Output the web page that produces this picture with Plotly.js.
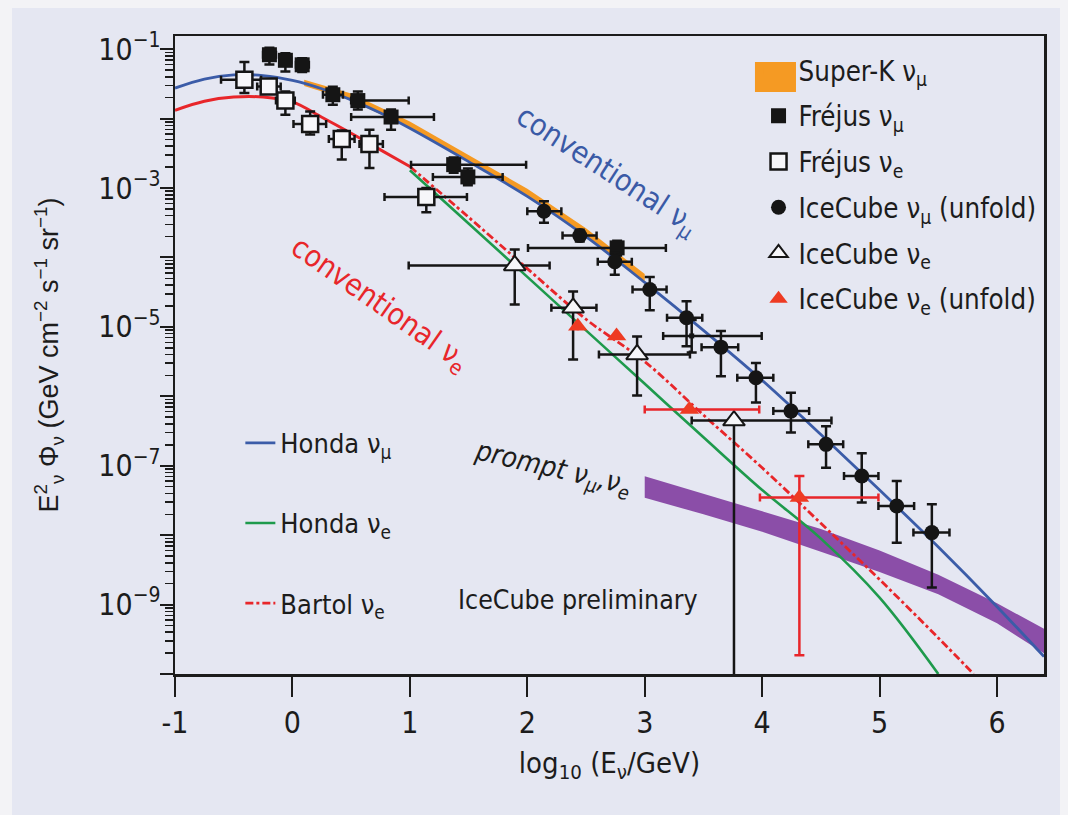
<!DOCTYPE html>
<html>
<head>
<meta charset="utf-8">
<script src="https://cdn.plot.ly/plotly-3.0.1.min.js"></script>
<style>
  html, body { margin: 0; padding: 0; background: #f3f3f6; }
  #chart { width: 1068px; height: 815px; }
</style>
</head>
<body>
<div id="chart"></div>
<script>
// All energies are log10(E / GeV); all fluxes are log10 of E^2 Phi in GeV cm^-2 s^-1 sr^-1.

// Conventional atmospheric flux models
const hondaNuMuX = [-1, -0.75, -0.5, -0.25, 0, 0.25, 0.5, 0.75, 1, 1.5, 2, 2.5, 3, 3.5, 4, 4.5, 5, 5.5, 6, 6.4];
const hondaNuMuY = [-1.56, -1.43, -1.37, -1.38, -1.45, -1.57, -1.73, -1.92, -2.14, -2.62, -3.12, -3.70, -4.36, -5.05, -5.77, -6.55, -7.35, -8.17, -9.03, -9.75];

const hondaNuEX = [1.0, 1.5, 2.0, 2.5, 3.0, 3.5, 4.0, 4.5, 5.0, 5.5];
const hondaNuEY = [-2.745, -3.51, -4.28, -5.05, -5.82, -6.59, -7.35, -8.05, -8.9, -10.0];

const bartolNuEX = [-1, -0.75, -0.5, -0.25, 0, 0.25, 0.5, 0.75, 1.0, 1.5, 2.0, 2.5, 3.0, 3.5, 4.0, 4.5, 5.0, 5.5, 5.8];
const bartolNuEY = [-1.88, -1.75, -1.69, -1.69, -1.76, -1.98, -2.21, -2.45, -2.69, -3.42, -4.16, -4.89, -5.50, -6.27, -7.03, -7.83, -8.64, -9.48, -10.0];
const bartolDashFrom = 1.0;   // above this energy the Bartol curve is drawn dash-dot

// Super-K nu_mu band
const superKX  = [0.1, 0.5, 1.0, 1.5, 2.0, 2.5, 3.0];
const superKHi = [-1.44, -1.64, -2.04, -2.52, -3.01, -3.58, -4.24];
const superKLo = [-1.53, -1.74, -2.14, -2.62, -3.12, -3.70, -4.37];

// Prompt nu_mu, nu_e band
const promptX  = [3.0, 3.5, 4.0, 4.5, 5.0, 5.5, 6.0, 6.4];
const promptHi = [-7.15, -7.40, -7.65, -7.91, -8.22, -8.57, -8.98, -9.35];
const promptLo = [-7.46, -7.70, -7.95, -8.24, -8.53, -8.85, -9.27, -9.70];

// Frejus nu_mu
const frejusMuX   = [-0.196, -0.06, 0.083, 0.344, 0.557, 0.84, 1.373, 1.494, 2.765];
const frejusMuY   = [-1.08, -1.16, -1.225, -1.656, -1.74, -1.977, -2.663, -2.84, -3.862];
const frejusMuXLo = [-0.25, -0.11, 0.03, 0.26, 0.50, 0.50, 1.01, 1.196, 2.006];
const frejusMuXHi = [-0.14, -0.01, 0.14, 0.43, 0.99, 1.205, 1.99, 1.79, 3.18];
const frejusMuYLo = [-1.22, -1.32, -1.33, -1.80, -1.87, -2.16, -2.78, -2.96, -3.97];
const frejusMuYHi = [-0.98, -1.06, -1.13, -1.54, -1.61, -1.87, -2.56, -2.72, -3.76];
// highest-energy Frejus nu_mu bin (marker mostly hidden)
const frejusMuTopX = [3.40], frejusMuTopY = [-5.13];
const frejusMuTopXLo = [3.157], frejusMuTopXHi = [3.996];
const frejusMuTopYLo = [-5.37], frejusMuTopYHi = [-4.90];

// Frejus nu_e
const frejusEX   = [-0.409, -0.202, -0.06, 0.151, 0.42, 0.656, 1.14];
const frejusEY   = [-1.44, -1.537, -1.738, -2.078, -2.294, -2.366, -3.128];
const frejusEXLo = [-0.608, -0.30, -0.14, 0.009, 0.31, 0.571, 0.784];
const frejusEXHi = [-0.267, -0.10, 0.02, 0.287, 0.529, 0.77, 1.486];
const frejusEYLo = [-1.63, -1.62, -1.944, -2.23, -2.59, -2.71, -3.35];
const frejusEYHi = [-1.186, -1.45, -1.61, -1.896, -2.17, -2.16, -3.0];

// IceCube nu_mu (unfolded)
const icMuX   = [2.142, 2.447, 2.745, 3.043, 3.356, 3.649, 3.947, 4.245, 4.544, 4.848, 5.146, 5.445];
const icMuY   = [-3.335, -3.685, -4.06, -4.462, -4.869, -5.292, -5.733, -6.213, -6.692, -7.148, -7.58, -7.963];
const icMuXLo = [2.0, 2.30, 2.60, 2.896, 3.19, 3.484, 3.788, 4.095, 4.393, 4.697, 4.99, 5.288];
const icMuXHi = [2.29, 2.59, 2.89, 3.186, 3.49, 3.796, 4.095, 4.40, 4.69, 4.99, 5.294, 5.595];
const icMuYLo = [-3.50, -3.77, -4.25, -4.76, -5.28, -5.71, -6.09, -6.52, -7.03, -7.53, -8.11, -8.755];
const icMuYHi = [-3.19, -3.60, -3.93, -4.28, -4.63, -5.06, -5.52, -5.95, -6.43, -6.82, -7.22, -7.555];

// IceCube nu_e
const icEX   = [1.893, 2.39, 2.935, 3.76];
const icEY   = [-4.115, -4.725, -5.397, -6.35];
const icEXLo = [0.99, 2.205, 2.61, 3.40];
const icEXHi = [2.19, 2.589, 3.385, 4.59];
const icEYLo = [-4.678, -5.47, -5.99, -11];
const icEYHi = [-3.886, -4.49, -5.14, -6.35];

// IceCube nu_e (unfolded)
const icEUX   = [2.43, 2.76, 3.38, 4.317];
const icEUY   = [-4.99, -5.13, -6.19, -7.459];
const icEUXLo = [2.43, 2.76, 3.0, 3.981];
const icEUXHi = [2.43, 2.76, 3.975, 4.99];
const icEUYLo = [-4.99, -5.13, -6.19, -9.73];
const icEUYHi = [-4.99, -5.13, -6.19, -7.149];

// Axis ticks
const xTickVals = [-1, 0, 1, 2, 3, 4, 5, 6];
const xTickText = ['-1', '0', '1', '2', '3', '4', '5', '6'];
const yDecades  = [-1, -2, -3, -4, -5, -6, -7, -8, -9, -10];
const yLabelled = [-1, -3, -5, -7, -9];

// ---------------------------------------------------------------------------
const NARROW = '"DejaVu Sans Condensed", "Liberation Sans Narrow", "Roboto", sans-serif';
const REGULAR = '"Liberation Sans", Arial, "DejaVu Sans", sans-serif';
const INK = '#1c1c1c';
const P = v => Math.pow(10, v);

function band(name, xs, hi, lo, color, extra) {
  return Object.assign({
    name: name, type: 'scatter', mode: 'lines',
    x: xs.concat(xs.slice().reverse()),
    y: hi.map(P).concat(lo.slice().reverse().map(P)),
    fill: 'toself', fillcolor: color, line: { width: 0, color: color },
    hoverinfo: 'skip'
  }, extra || {});
}

function points(name, xs, ys, xlo, xhi, ylo, yhi, marker, barColor, extra) {
  return Object.assign({
    name: name, type: 'scatter', mode: 'markers',
    x: xs, y: ys.map(P),
    error_x: { type: 'data', symmetric: false,
      array: xs.map((v, i) => xhi[i] - v), arrayminus: xs.map((v, i) => v - xlo[i]),
      color: barColor, thickness: 2.5, width: 4 },
    error_y: { type: 'data', symmetric: false,
      array: ys.map((v, i) => P(yhi[i]) - P(v)), arrayminus: ys.map((v, i) => P(v) - P(ylo[i])),
      color: barColor, thickness: 2.5, width: 5 },
    marker: marker
  }, extra || {});
}

const bartolSolid = bartolNuEX.map((x, i) => [x, bartolNuEY[i]]).filter(p => p[0] <= bartolDashFrom);
const bartolDash  = bartolNuEX.map((x, i) => [x, bartolNuEY[i]]).filter(p => p[0] >= bartolDashFrom);

const traces = [
  band('Super-K ν<sub>μ</sub>', superKX, superKHi, superKLo, '#f59a23', { legend: 'legend', legendgroup: 'sk' }),
  band('prompt', promptX, promptHi, promptLo, '#8b4ea8', { showlegend: false }),
  { name: 'conventional ν<sub>e</sub> (low energy)', type: 'scatter', mode: 'lines',
    x: bartolSolid.map(p => p[0]), y: bartolSolid.map(p => P(p[1])),
    line: { color: '#e8262a', width: 3, shape: 'spline' }, showlegend: false },
  { name: 'Honda ν<sub>μ</sub>', type: 'scatter', mode: 'lines', x: hondaNuMuX, y: hondaNuMuY.map(P),
    line: { color: '#3b5ca8', width: 2.8, shape: 'spline' }, legend: 'legend2', legendgroup: 'hm' },
  { name: 'Honda ν<sub>e</sub>', type: 'scatter', mode: 'lines', x: hondaNuEX, y: hondaNuEY.map(P),
    line: { color: '#1e9a4c', width: 2.6, shape: 'spline' }, legend: 'legend2', legendgroup: 'he' },
  { name: 'Bartol ν<sub>e</sub>', type: 'scatter', mode: 'lines',
    x: bartolDash.map(p => p[0]), y: bartolDash.map(p => P(p[1])),
    line: { color: '#e8262a', width: 2.8, dash: '8px,3px,3px,3px', shape: 'spline' }, legend: 'legend2', legendgroup: 'bt' },
  points('Fréjus ν<sub>μ</sub>', frejusMuX, frejusMuY, frejusMuXLo, frejusMuXHi, frejusMuYLo, frejusMuYHi,
    { symbol: 'square', size: 15, color: '#151515' }, '#151515', { legend: 'legend', legendgroup: 'fm' }),
  points('Fréjus ν<sub>μ</sub> (last bin)', frejusMuTopX, frejusMuTopY, frejusMuTopXLo, frejusMuTopXHi, frejusMuTopYLo, frejusMuTopYHi,
    { symbol: 'square', size: 5, color: '#151515' }, '#151515', { showlegend: false }),
  points('Fréjus ν<sub>e</sub>', frejusEX, frejusEY, frejusEXLo, frejusEXHi, frejusEYLo, frejusEYHi,
    { symbol: 'square', size: 16, color: '#f6f6f9', line: { color: '#151515', width: 2.5 } }, '#151515', { legend: 'legend', legendgroup: 'fe' }),
  points('IceCube ν<sub>μ</sub> (unfold)', icMuX, icMuY, icMuXLo, icMuXHi, icMuYLo, icMuYHi,
    { symbol: 'circle', size: 15, color: '#151515' }, '#151515', { legend: 'legend', legendgroup: 'im' }),
  points('IceCube ν<sub>e</sub>', icEX, icEY, icEXLo, icEXHi, icEYLo, icEYHi,
    { symbol: 'triangle-up', size: 19, color: '#f6f6f9', line: { color: '#151515', width: 2 } }, '#151515', { legend: 'legend', legendgroup: 'ie' }),
  points('IceCube ν<sub>e</sub> (unfold)', icEUX, icEUY, icEUXLo, icEUXHi, icEUYLo, icEUYHi,
    { symbol: 'triangle-up', size: 17, color: '#ee3b23' }, '#e8262a', { legend: 'legend', legendgroup: 'iu' })
];

// minor ticks at 2..9 x 10^k on the flux axis
const minorVals = [];
for (let k = -11; k <= 0; k++) for (let m = 2; m <= 9; m++) minorVals.push(m * Math.pow(10, k));

const layout = {
  width: 1068, height: 815,
  margin: { l: 175, r: 24, t: 36, b: 141 },
  paper_bgcolor: '#f3f3f6',
  plot_bgcolor: 'rgba(0,0,0,0)',
  font: { family: NARROW, color: INK, size: 28 },
  showlegend: true,
  xaxis: {
    range: [-1, 6.4], tickmode: 'array', tickvals: xTickVals, ticktext: xTickText,
    ticks: 'outside', ticklen: 20, tickwidth: 2, tickcolor: INK,
    showline: true, linewidth: 2.5, linecolor: INK, mirror: true,
    showgrid: false, zeroline: false,
    tickfont: { family: NARROW, size: 30, color: INK },
    title: { text: 'log<sub>10</sub> (E<sub>ν</sub>/GeV)', font: { family: NARROW, size: 29, color: INK }, standoff: 14 }
  },
  yaxis: {
    type: 'log', range: [-10, -0.81], tickmode: 'array',
    tickvals: yDecades.map(P),
    ticktext: yDecades.map(d => yLabelled.includes(d) ? '10<sup>−' + (-d) + '</sup>' : ''),
    ticks: 'outside', ticklen: 13, tickwidth: 2, tickcolor: INK,
    minor: { tickmode: 'array', tickvals: minorVals, ticks: 'outside', ticklen: 8, tickwidth: 1.5, tickcolor: INK },
    ticklabelstandoff: -7,
    showline: true, linewidth: 2.5, linecolor: INK, mirror: true,
    showgrid: false, zeroline: false,
    tickfont: { family: NARROW, size: 30, color: INK },
    title: { text: 'E<sup>2</sup><sub>ν</sub> Φ<sub>ν</sub> (GeV cm<sup>−2</sup> s<sup>−1</sup> sr<sup>−1</sup>)',
             font: { family: REGULAR, size: 27, color: INK }, standoff: 32 }
  },
  legend: {
    x: 0.6715, y: 0.985, xanchor: 'left', yanchor: 'top',
    bgcolor: 'rgba(0,0,0,0)', borderwidth: 0,
    font: { family: NARROW, size: 27.5, color: INK },
    tracegroupgap: 7, traceorder: 'grouped', itemwidth: 30
  },
  legend2: {
    x: 0.0752, y: 0.40, xanchor: 'left', yanchor: 'top',
    bgcolor: 'rgba(0,0,0,0)', borderwidth: 0,
    font: { family: NARROW, size: 27, color: INK },
    tracegroupgap: 42, traceorder: 'grouped', itemwidth: 30
  },
  shapes: [
    { // lavender panel behind the figure
      type: 'rect', xref: 'paper', yref: 'paper', layer: 'below',
      x0: -0.1876, x1: 1.0184, y0: -0.221, y1: 1.0439,
      fillcolor: '#e5e7f2', line: { width: 0 } },
    { // enlarged key swatch for the Super-K band
      type: 'rect', xref: 'paper', yref: 'paper', layer: 'above',
      x0: 0.6674, x1: 0.7146, y0: 0.9122, y1: 0.9592,
      fillcolor: '#f59a23', line: { width: 0 } }
  ],
  annotations: [
    { text: 'conventional ν<sub>μ</sub>', x: 2.68, y: -2.76, xref: 'x', yref: 'y', showarrow: false,
      textangle: 33, font: { family: NARROW, size: 30, color: '#3a5aa6' } },
    { text: 'conventional ν<sub>e</sub>', x: 0.74, y: -4.68, xref: 'x', yref: 'y', showarrow: false,
      textangle: 35, font: { family: NARROW, size: 30, color: '#e8262a' } },
    { text: '<i>prompt ν<sub>μ</sub>,ν<sub>e</sub></i>', x: 2.22, y: -7.05, xref: 'x', yref: 'y', showarrow: false,
      textangle: 13, font: { family: NARROW, size: 28, color: INK } },
    { text: 'IceCube preliminary', x: 2.43, y: -8.92, xref: 'x', yref: 'y', showarrow: false,
      font: { family: NARROW, size: 26.5, color: INK } }
  ]
};

Plotly.newPlot('chart', traces, layout, { displayModeBar: false, staticPlot: true });
</script>
</body>
</html>
